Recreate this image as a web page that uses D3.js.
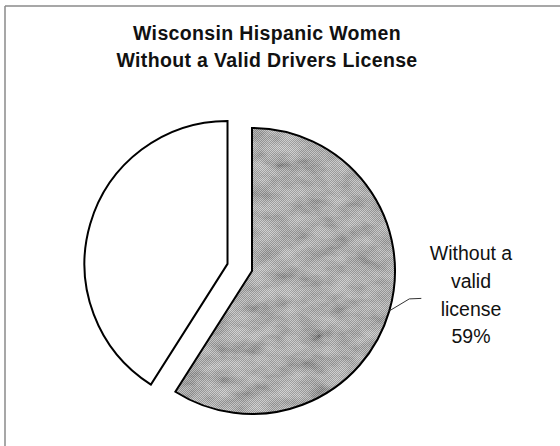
<!DOCTYPE html>
<html>
<head>
<meta charset="utf-8">
<script src="https://cdn.jsdelivr.net/npm/d3@7"></script>
<style>
  html, body { margin: 0; padding: 0; background: #fff; }
  svg { display: block; }
</style>
</head>
<body>
<svg id="chart" width="560" height="446"></svg>
<script>
// Share of Wisconsin Hispanic women by licence status (percent)
const categories = ["Without a valid license", "With a valid license"];
const values = [59, 41];
const labelLines = ["Without a", "valid", "license", "59%"];
const titleLines = ["Wisconsin Hispanic Women", "Without a Valid Drivers License"];

const svg = d3.select("#chart");
const defs = svg.append("defs");

// Dithered grey fill for the highlighted slice
const pat = defs.append("pattern")
  .attr("id", "dither").attr("width", 2).attr("height", 2)
  .attr("patternUnits", "userSpaceOnUse");
pat.append("rect").attr("width", 2).attr("height", 2).attr("fill", "#c2c2c2");
pat.append("rect").attr("width", 1).attr("height", 1).attr("fill", "#808080");
pat.append("rect").attr("x", 1).attr("y", 1).attr("width", 1).attr("height", 1).attr("fill", "#808080");

// Mottled texture laid over the dither
const f = defs.append("filter").attr("id", "mottle")
  .attr("x", 0).attr("y", 0).attr("width", 1).attr("height", 1);
f.append("feTurbulence").attr("type", "fractalNoise")
  .attr("baseFrequency", "0.04 0.07").attr("numOctaves", 4).attr("seed", 11).attr("result", "n");
f.append("feColorMatrix").attr("in", "n").attr("type", "matrix")
  .attr("values", "1.4 0 0 0 -0.12  1.4 0 0 0 -0.12  1.4 0 0 0 -0.12  0 0 0 0 0.3")
  .attr("result", "g");
f.append("feComposite").attr("in", "g").attr("in2", "SourceAlpha").attr("operator", "in");

// Frame lines
svg.append("line").attr("x1", 5).attr("y1", 6).attr("x2", 560).attr("y2", 6)
  .attr("stroke", "#8a8a8a").attr("stroke-width", 1.5);
svg.append("line").attr("x1", 5).attr("y1", 6).attr("x2", 5).attr("y2", 446)
  .attr("stroke", "#8a8a8a").attr("stroke-width", 1.5);

// Title
svg.append("text")
  .attr("x", 267).attr("y", 40)
  .attr("text-anchor", "middle")
  .attr("font-family", "Liberation Sans, Arial, sans-serif")
  .attr("font-weight", "bold").attr("font-size", 19.5)
  .attr("letter-spacing", 0.35)
  .attr("fill", "#111")
  .selectAll("tspan").data(titleLines).join("tspan")
  .attr("x", 267).attr("dy", (d, i) => i === 0 ? 0 : 27)
  .text(d => d);

// Pie
const cx = 252, cy = 271, r = 143, explode = 25.5;
const pie = d3.pie().sort(null).value(d => d)(values);
const arc = d3.arc().innerRadius(0).outerRadius(r);

const g = svg.append("g").attr("transform", `translate(${cx},${cy})`);
const slices = g.selectAll("g.slice").data(pie).join("g")
  .attr("class", "slice")
  .attr("transform", (d, i) => {
    if (i === 0) return null;
    const mid = (d.startAngle + d.endAngle) / 2;
    return `translate(${Math.sin(mid) * explode},${-Math.cos(mid) * explode})`;
  });

slices.append("path").attr("d", arc)
  .attr("fill", (d, i) => i === 0 ? "url(#dither)" : "#fff");
slices.filter((d, i) => i === 0).append("path").attr("d", arc)
  .attr("fill", "#999").attr("filter", "url(#mottle)");
slices.append("path").attr("d", arc)
  .attr("fill", "none").attr("stroke", "#000").attr("stroke-width", 2)
  .attr("stroke-linejoin", "miter");

// Leader line and data label for the highlighted slice
const first = pie[0];
const la = (first.startAngle + first.endAngle) / 2;
const p0 = [cx + Math.sin(la) * r, cy - Math.cos(la) * r];
svg.append("path")
  .attr("d", d3.line()([p0, [p0[0] + 20, p0[1] - 12], [p0[0] + 32, p0[1] - 12.5]]))
  .attr("fill", "none").attr("stroke", "#333").attr("stroke-width", 1);

svg.append("text")
  .attr("text-anchor", "middle")
  .attr("font-family", "Liberation Sans, Arial, sans-serif")
  .attr("font-size", 19.5).attr("fill", "#111")
  .selectAll("tspan").data(labelLines).join("tspan")
  .attr("x", 471).attr("y", (d, i) => 260 + i * 27.8)
  .text(d => d);
</script>
</body>
</html>
